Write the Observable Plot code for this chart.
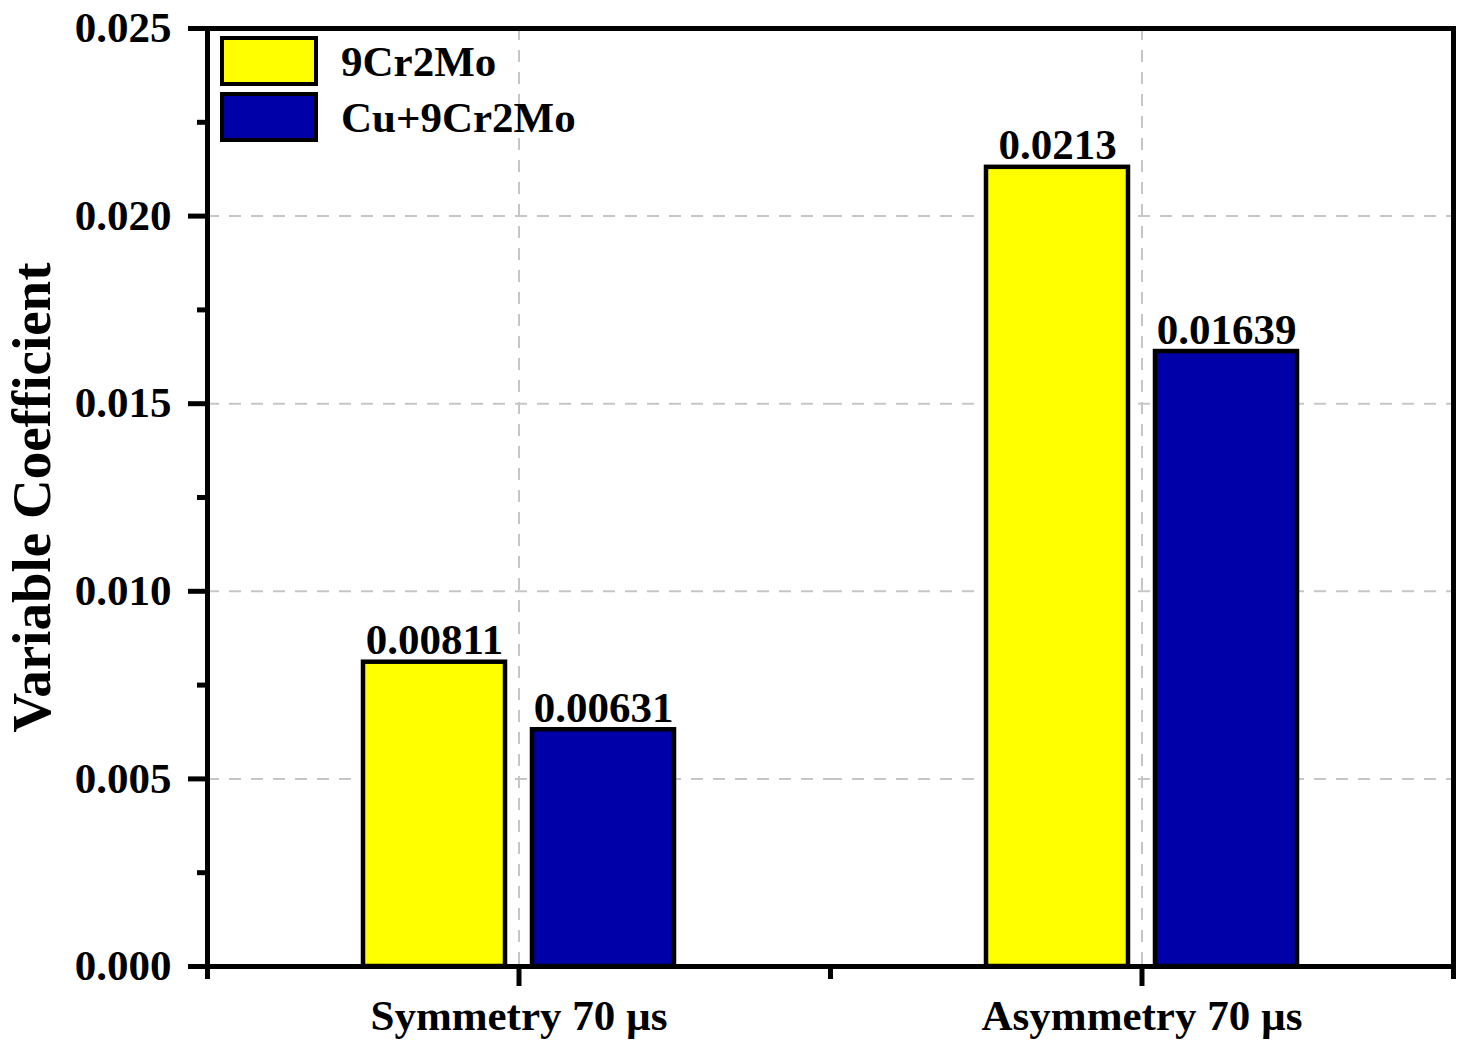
<!DOCTYPE html>
<html>
<head>
<meta charset="utf-8">
<script src="https://cdn.jsdelivr.net/npm/d3@7"></script>
<script src="https://cdn.jsdelivr.net/npm/@observablehq/plot@0.6"></script>
<style>
  body { margin: 0; background: #fff; }
  #wrap { position: relative; width: 1466px; height: 1056px; }
  .legend { position: absolute; left: 220px; top: 33px; font-family: 'Liberation Serif', 'Times New Roman', serif; font-weight: bold; font-size: 43px; color: #000; }
  .item { display: flex; align-items: center; height: 56px; }
  .sw { width: 90px; height: 42px; border: 4px solid #000; margin-right: 23px; flex: none; }
</style>
</head>
<body>
<div id="wrap"></div>
<script>
const categories = ["Symmetry 70 µs", "Asymmetry 70 µs"];
const series = ["9Cr2Mo", "Cu+9Cr2Mo"];
const values9Cr2Mo = [0.00811, 0.0213];
const valuesCu9Cr2Mo = [0.00631, 0.01639];
const seriesColors = ["#ffff00", "#0000a8"];
const yMajorTicks = [0, 0.005, 0.010, 0.015, 0.020, 0.025];
const yMinorTicks = [0.0025, 0.0075, 0.0125, 0.0175, 0.0225];
const yTitle = "Variable Coefficient";

const table = [];
categories.forEach((c, i) => {
  table.push({category: c, series: series[0], value: values9Cr2Mo[i]});
  table.push({category: c, series: series[1], value: valuesCu9Cr2Mo[i]});
});

const gridStyle = {stroke: "#c6c6c6", strokeOpacity: 1, strokeWidth: 2, strokeDasharray: "12,10"};
const lineW = 5;

const chart = Plot.plot({
  width: 1466,
  height: 1056,
  marginLeft: 206,
  marginRight: 13,
  marginTop: 28,
  marginBottom: 90,
  style: {fontFamily: "'Liberation Serif', 'Times New Roman', serif", fontWeight: "bold", fontSize: "43px", background: "#fff", color: "#000"},
  fx: {domain: categories, padding: 0, label: null, axis: null},
  x: {domain: series, paddingInner: 0.16, paddingOuter: 0.915, axis: null},
  y: {domain: [0, 0.025], axis: null},
  color: {domain: series, range: seriesColors},
  marks: [
    Plot.gridY(yMajorTicks.slice(1, -1), gridStyle),
    Plot.gridFx(gridStyle),
    Plot.barY(table, {fx: "category", x: "series", y: "value", fill: "series", stroke: "#000", strokeWidth: 4.5}),
    Plot.text(table, {fx: "category", x: "series", y: "value", text: d => String(d.value), lineAnchor: "bottom", dy: -8, fontSize: 43, fontWeight: "bold", fill: "#000"}),
    Plot.frame({anchor: "top", strokeWidth: lineW, strokeLinecap: "square"}),
    Plot.frame({anchor: "bottom", strokeWidth: lineW, strokeLinecap: "square"}),
    Plot.frame({anchor: "left", facetAnchor: "left", insetBottom: -10, strokeWidth: lineW, strokeLinecap: "square"}),
    Plot.frame({anchor: "right", facetAnchor: "right", insetBottom: -10, strokeWidth: lineW, strokeLinecap: "square"}),
    Plot.frame({anchor: "left", facetAnchor: "right", insetTop: 938, insetBottom: -10, strokeWidth: lineW}),
    Plot.axisY(yMajorTicks, {anchor: "left", tickSize: 19, tickPadding: 17, strokeWidth: lineW, tickFormat: d3.format(".3f"), label: null, fontSize: 43}),
    Plot.axisY(yMinorTicks, {anchor: "left", tickSize: 10, strokeWidth: lineW, tickFormat: () => "", label: null}),
    Plot.axisFx({anchor: "bottom", tickSize: 20, tickPadding: 13, strokeWidth: lineW, label: null, fontSize: 43}),
    Plot.text([yTitle], {fx: [categories[0]], text: d => d, frameAnchor: "left", textAnchor: "middle", rotate: -90, dx: -175, fontSize: 55, fontWeight: "bold", fill: "#000"})
  ]
});

const wrap = document.getElementById("wrap");
wrap.appendChild(chart);

const legend = document.createElement("div");
legend.className = "legend";
series.forEach((s, i) => {
  const item = document.createElement("div");
  item.className = "item";
  const sw = document.createElement("div");
  sw.className = "sw";
  sw.style.background = seriesColors[i];
  const label = document.createElement("span");
  label.textContent = s;
  item.appendChild(sw);
  item.appendChild(label);
  legend.appendChild(item);
});
wrap.appendChild(legend);
</script>
</body>
</html>
